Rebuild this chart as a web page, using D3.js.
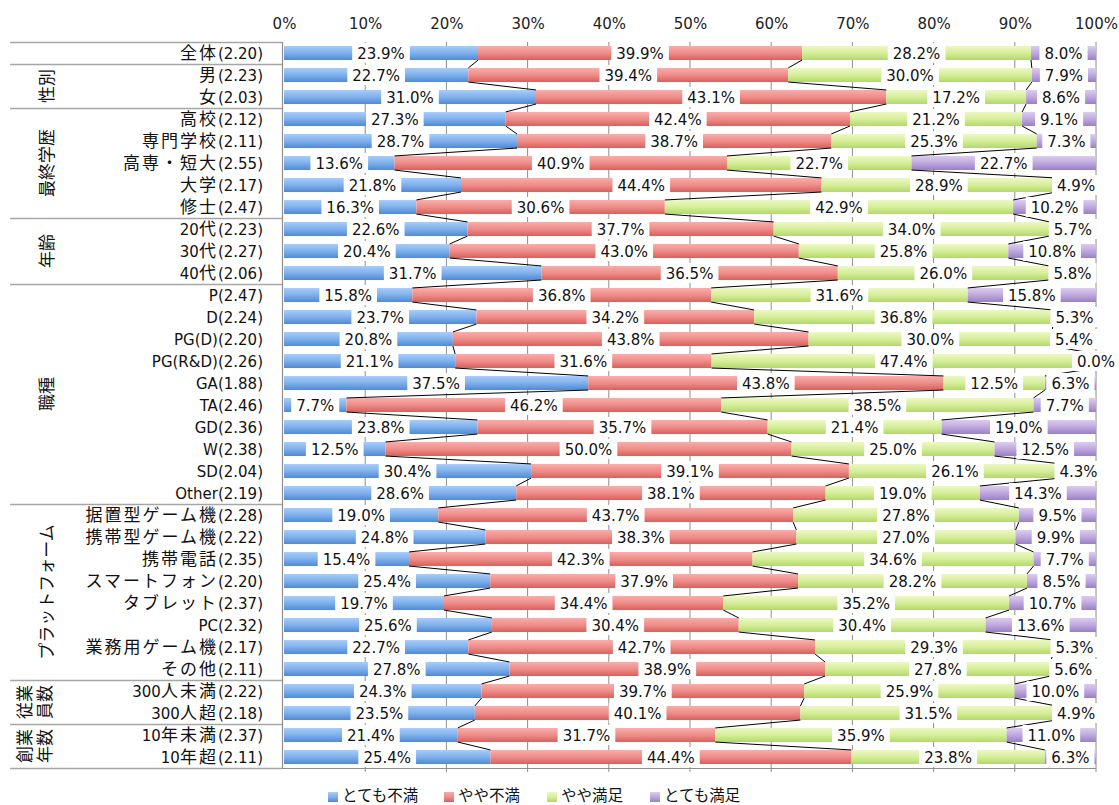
<!DOCTYPE html>
<html>
<head>
<meta charset="utf-8">
<script src="https://cdn.jsdelivr.net/npm/d3@7"></script>
<style>
  body { margin: 0; background: #fff; }
  svg { display: block; }
</style>
</head>
<body>
<script>
// categories and mean scores
var categories = ['全体', '男', '女', '高校', '専門学校', '高専・短大', '大学', '修士',
    '20代', '30代', '40代', 'P', 'D', 'PG(D)', 'PG(R&D)', 'GA', 'TA', 'GD', 'W', 'SD', 'Other',
    '据置型ゲーム機', '携帯型ゲーム機', '携帯電話', 'スマートフォン', 'タブレット', 'PC', '業務用ゲーム機', 'その他',
    '300人未満', '300人超', '10年未満', '10年超'];
var means = ['2.20', '2.23', '2.03', '2.12', '2.11', '2.55', '2.17', '2.47',
    '2.23', '2.27', '2.06', '2.47', '2.24', '2.20', '2.26', '1.88', '2.46', '2.36', '2.38', '2.04', '2.19',
    '2.28', '2.22', '2.35', '2.20', '2.37', '2.32', '2.17', '2.11',
    '2.22', '2.18', '2.37', '2.11'];

// series values (%)
var veryDissatisfied = [23.9, 22.7, 31.0, 27.3, 28.7, 13.6, 21.8, 16.3,
    22.6, 20.4, 31.7, 15.8, 23.7, 20.8, 21.1, 37.5, 7.7, 23.8, 12.5, 30.4, 28.6,
    19.0, 24.8, 15.4, 25.4, 19.7, 25.6, 22.7, 27.8,
    24.3, 23.5, 21.4, 25.4];
var someDissatisfied = [39.9, 39.4, 43.1, 42.4, 38.7, 40.9, 44.4, 30.6,
    37.7, 43.0, 36.5, 36.8, 34.2, 43.8, 31.6, 43.8, 46.2, 35.7, 50.0, 39.1, 38.1,
    43.7, 38.3, 42.3, 37.9, 34.4, 30.4, 42.7, 38.9,
    39.7, 40.1, 31.7, 44.4];
var someSatisfied = [28.2, 30.0, 17.2, 21.2, 25.3, 22.7, 28.9, 42.9,
    34.0, 25.8, 26.0, 31.6, 36.8, 30.0, 47.4, 12.5, 38.5, 21.4, 25.0, 26.1, 19.0,
    27.8, 27.0, 34.6, 28.2, 35.2, 30.4, 29.3, 27.8,
    25.9, 31.5, 35.9, 23.8];
var verySatisfied = [8.0, 7.9, 8.6, 9.1, 7.3, 22.7, 4.9, 10.2,
    5.7, 10.8, 5.8, 15.8, 5.3, 5.4, 0.0, 6.3, 7.7, 19.0, 12.5, 4.3, 14.3,
    9.5, 9.9, 7.7, 8.5, 10.7, 13.6, 5.3, 5.6,
    10.0, 4.9, 11.0, 6.3];

var seriesNames = ['とても不満', 'やや不満', 'やや満足', 'とても満足'];

// row groups (first row, last row, label lines)
var groupLabels = [['性別'], ['最終学歴'], ['年齢'], ['職種'], ['プラットフォーム'], ['従業', '員数'], ['創業', '年数']];
var groupFirst = [1, 3, 8, 11, 21, 29, 31];
var groupLast = [2, 7, 10, 20, 28, 30, 32];

var tickValues = [0, 0.1, 0.2, 0.3, 0.4, 0.5, 0.6, 0.7, 0.8, 0.9, 1];

var width = 1119, height = 805;
var svg = d3.select('body').append('svg')
    .attr('width', width)
    .attr('height', height);

var colors = [
    ['#a9cdf8', '#7fb0ec', '#4d8ad6'],
    ['#f8aeac', '#ef8c89', '#d9605b'],
    ['#ecf8c6', '#d6ee98', '#b3d86a'],
    ['#dccdef', '#bfa8de', '#9a80c6']
];

var defs = svg.append('defs');
colors.forEach(function (c, i) {
    var grad = defs.append('linearGradient')
        .attr('id', 'grad' + i)
        .attr('x1', 0).attr('y1', 0).attr('x2', 0).attr('y2', 1);
    grad.append('stop').attr('offset', '0%').attr('stop-color', c[0]);
    grad.append('stop').attr('offset', '50%').attr('stop-color', c[1]);
    grad.append('stop').attr('offset', '100%').attr('stop-color', c[2]);
});

var table = categories.map(function (c, i) {
    return {
        cat: c, mean: means[i],
        k0: veryDissatisfied[i], k1: someDissatisfied[i],
        k2: someSatisfied[i], k3: verySatisfied[i]
    };
});
var keys = ['k0', 'k1', 'k2', 'k3'];
var values = [veryDissatisfied, someDissatisfied, someSatisfied, verySatisfied];

var stacked = d3.stack().keys(keys).offset(d3.stackOffsetExpand)(table);

var xScale = d3.scaleLinear().domain([0, 1]).range([284, 1096]);
var yScale = d3.scaleBand()
    .domain(d3.range(categories.length))
    .range([42, 768])
    .paddingInner(0.36)
    .paddingOuter(0.18);
var step = yScale.step();
var bw = yScale.bandwidth();
function rowTop(i) { return 42 + i * step; }

// gridlines
svg.append('g').selectAll('line').data(tickValues.slice(1)).enter().append('line')
    .attr('x1', function (d) { return xScale(d); })
    .attr('x2', function (d) { return xScale(d); })
    .attr('y1', 42).attr('y2', 772)
    .attr('stroke', '#8e8e8e').attr('stroke-width', 1);

// top axis labels
var topAxis = svg.append('g')
    .attr('transform', 'translate(0,42)')
    .call(d3.axisTop(xScale).tickValues(tickValues).tickFormat(d3.format('.0%')).tickSize(0).tickPadding(13));
topAxis.select('.domain').remove();
topAxis.selectAll('text')
    .style('font-family', 'DejaVu Sans, sans-serif')
    .style('font-size', '15px')
    .attr('fill', '#222');

// bottom axis line
svg.append('line')
    .attr('x1', 282).attr('x2', 1096).attr('y1', 768.5).attr('y2', 768.5)
    .attr('stroke', '#8e8e8e');

// left table
var tableG = svg.append('g');
var sepRows = [0, 1, 3, 8, 11, 21, 29, 31, 33];
tableG.selectAll('line.sep').data(sepRows).enter().append('line')
    .attr('x1', 10).attr('x2', 282)
    .attr('y1', function (d) { return rowTop(d) + 0.5; })
    .attr('y2', function (d) { return rowTop(d) + 0.5; })
    .attr('stroke', '#a6a6a6').attr('stroke-width', 1.5);
tableG.append('line')
    .attr('x1', 282.5).attr('x2', 282.5).attr('y1', 42).attr('y2', 769)
    .attr('stroke', '#8e8e8e').attr('stroke-width', 1.2);

// group labels, rotated
groupLabels.forEach(function (lines, g) {
    var cy = (rowTop(groupFirst[g]) + rowTop(groupLast[g] + 1)) / 2;
    var cx = lines.length === 1 ? 47 : 35;
    var t = tableG.append('text')
        .attr('transform', 'translate(' + cx + ',' + cy + ') rotate(-90)')
        .attr('text-anchor', 'middle')
        .style('font-family', 'Noto Sans CJK JP, sans-serif')
        .style('font-size', '17px')
        .attr('fill', '#111');
    lines.forEach(function (ln, j) {
        t.append('tspan')
            .attr('x', 0)
            .attr('y', lines.length === 1 ? 6 : (j === 0 ? -4 : 16))
            .text(ln);
    });
});

// category labels: cjk and latin in separate runs
var cjkRe = /[\u3000-\u9fff\uff00-\uffef]+|[^\u3000-\u9fff\uff00-\uffef]+/g;
table.forEach(function (d, i) {
    var t = tableG.append('text')
        .attr('x', 263)
        .attr('y', yScale(i) + bw / 2 + 5.5)
        .attr('text-anchor', 'end')
        .attr('fill', '#111');
    var str = d.cat + '(' + d.mean + ')';
    str.match(cjkRe).forEach(function (run) {
        var isCjk = /[\u3000-\u9fff\uff00-\uffef]/.test(run);
        t.append('tspan')
            .style('font-family', isCjk ? 'Noto Sans CJK JP, sans-serif' : 'DejaVu Sans, sans-serif')
            .style('font-size', isCjk ? '17px' : '15px')
            .style('letter-spacing', isCjk ? '2px' : '0px')
            .text(run);
    });
});

// bars
var barG = svg.append('g');
stacked.forEach(function (s, k) {
    barG.append('g').selectAll('rect').data(s).enter().append('rect')
        .attr('x', function (d) { return xScale(d[0]); })
        .attr('y', function (d, i) { return yScale(i); })
        .attr('width', function (d) { return Math.max(0, xScale(d[1]) - xScale(d[0])); })
        .attr('height', bw)
        .attr('fill', 'url(#grad' + k + ')');
});

// series lines between neighbouring bars
var lineG = svg.append('g');
stacked.slice(0, 3).forEach(function (s) {
    for (var i = 0; i < s.length - 1; i++) {
        lineG.append('line')
            .attr('x1', xScale(s[i][1])).attr('y1', yScale(i) + bw)
            .attr('x2', xScale(s[i + 1][1])).attr('y2', yScale(i + 1))
            .attr('stroke', '#000').attr('stroke-width', 1);
    }
});

// value labels with white boxes
var labG = svg.append('g');
stacked.forEach(function (s, k) {
    s.forEach(function (d, i) {
        var cx = xScale((d[0] + d[1]) / 2);
        var cy = yScale(i) + bw / 2;
        var box = labG.append('rect').attr('fill', '#fff');
        var t = labG.append('text')
            .attr('x', cx).attr('y', cy + 5.5)
            .attr('text-anchor', 'middle')
            .style('font-family', 'DejaVu Sans, sans-serif')
            .style('font-size', '15px')
            .attr('fill', '#111')
            .text(values[k][i].toFixed(1) + '%');
        var w = t.node().getComputedTextLength() + 10;
        box.attr('x', cx - w / 2).attr('y', cy - 10).attr('width', w).attr('height', 20);
    });
});

// legend
var legendX = [328, 444, 547, 650];
var legG = svg.append('g');
seriesNames.forEach(function (n, k) {
    legG.append('rect')
        .attr('x', legendX[k]).attr('y', 792)
        .attr('width', 10).attr('height', 10)
        .attr('fill', 'url(#grad' + k + ')');
    legG.append('text')
        .attr('x', legendX[k] + 14).attr('y', 801)
        .style('font-family', 'Noto Sans CJK JP, sans-serif')
        .style('font-size', '15.5px')
        .attr('fill', '#111')
        .text(n);
});
</script>
</body>
</html>
